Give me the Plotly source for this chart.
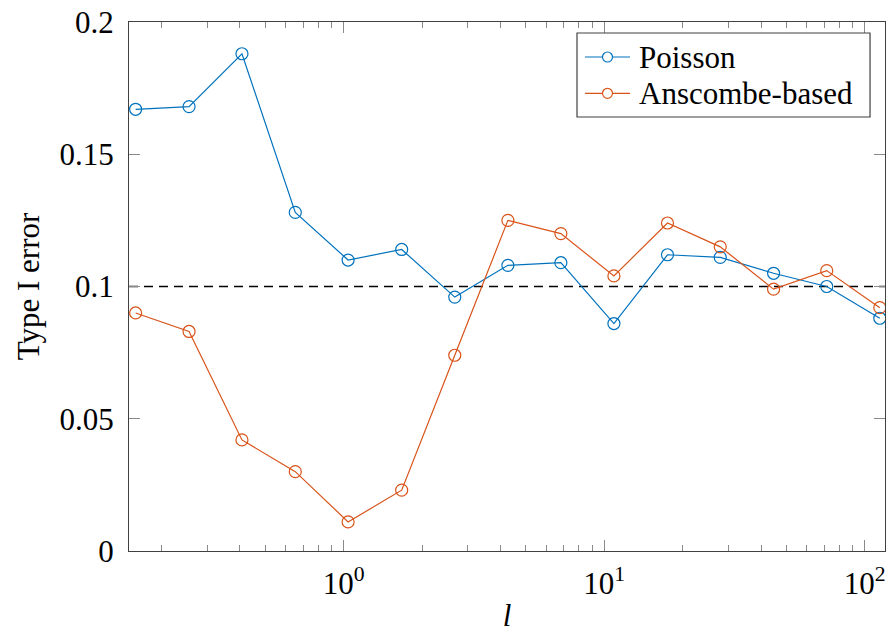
import plotly.graph_objects as go

# Data
l_values = [0.159, 0.255, 0.407, 0.652, 1.04, 1.67, 2.67, 4.27, 6.82, 10.9,
            17.5, 27.9, 44.7, 71.5, 114.3]
poisson = [0.167, 0.168, 0.188, 0.128, 0.110, 0.114, 0.096, 0.108, 0.109,
           0.086, 0.112, 0.111, 0.105, 0.100, 0.088]
anscombe = [0.090, 0.083, 0.042, 0.030, 0.011, 0.023, 0.074, 0.125, 0.120,
            0.104, 0.124, 0.115, 0.099, 0.106, 0.092]
series_names = ["Poisson", "Anscombe-based"]
nominal_level = 0.1
x_tickvals = [1, 10, 100]
x_ticktext = ["10<sup>0</sup>", "10<sup>1</sup>", "10<sup>2</sup>"]
y_tickvals = [0, 0.05, 0.1, 0.15, 0.2]
y_ticktext = ["0", "0.05", "0.1", "0.15", "0.2"]

FONT = "Liberation Serif"
FS = 31
BLUE = "#0072BD"
ORANGE = "#D95319"
AX = "#404040"
colors = [BLUE, ORANGE]

minor_vals = [m * 10 ** e for e in (-1, 0, 1, 2) for m in range(2, 10)]

fig = go.Figure()
for name, ys, col in zip(series_names, (poisson, anscombe), colors):
    fig.add_trace(go.Scatter(
        x=l_values, y=ys, name=name, mode="lines+markers", showlegend=False,
        line=dict(color=col, width=1.2),
        marker=dict(symbol="circle-open", size=12, color=col, line=dict(width=1.2, color=col)),
    ))

fig.add_shape(type="line", xref="paper", x0=0, x1=1, yref="y", y0=nominal_level, y1=nominal_level,
              line=dict(color="black", width=1.3, dash="9px,6px"), layer="below")

# Legend drawn as a boxed key (paper coordinates)
box = dict(x0=0.5926, x1=0.9802, y0=0.8204, y1=0.9792)
fig.add_shape(type="rect", xref="paper", yref="paper", **box,
              line=dict(color=AX, width=1.2), fillcolor="white", layer="above")
row_y = [0.9338, 0.8652]
line_x = (0.6032, 0.6627)
for name, col, ry in zip(series_names, colors, row_y):
    fig.add_shape(type="line", xref="paper", yref="paper", x0=line_x[0], x1=line_x[1],
                  y0=ry, y1=ry, line=dict(color=col, width=1.2), layer="above")
    fig.add_shape(type="circle", xref="paper", yref="paper",
                  xsizemode="pixel", ysizemode="pixel",
                  xanchor=(line_x[0] + line_x[1]) / 2, yanchor=ry,
                  x0=-5, x1=5, y0=-5, y1=5,
                  line=dict(color=col, width=1.2), fillcolor="white", layer="above")
    fig.add_annotation(xref="paper", yref="paper", x=0.6720, y=ry, text=name,
                       showarrow=False, xanchor="left", yanchor="middle",
                       font=dict(family=FONT, size=FS, color="black"))

fig.update_layout(
    width=888, height=633,
    margin=dict(l=129, r=3, t=22, b=82),
    paper_bgcolor="white", plot_bgcolor="white",
    font=dict(family=FONT, size=FS, color="black"),
    showlegend=False,
    xaxis=dict(type="log", range=[-0.824, 2.078],
               tickvals=x_tickvals, ticktext=x_ticktext,
               ticks="inside", ticklen=11, tickcolor="#8a8a8a", tickwidth=1,
               ticklabelstandoff=5,
               showline=True, linecolor=AX, linewidth=1.3, mirror="ticks",
               showgrid=False, zeroline=False,
               minor=dict(tickvals=minor_vals, ticks="inside", ticklen=6,
                          tickcolor="#8a8a8a", tickwidth=1, showgrid=False),
               title=dict(text="<i>l</i>", font=dict(family=FONT, size=FS), standoff=6),
               tickfont=dict(family=FONT, size=FS)),
    yaxis=dict(range=[0, 0.2], tickvals=y_tickvals, ticktext=y_ticktext,
               ticks="inside", ticklen=11, tickcolor="#8a8a8a", tickwidth=1,
               ticklabelstandoff=8,
               showline=True, linecolor=AX, linewidth=1.3, mirror="ticks",
               showgrid=False, zeroline=False,
               title=dict(text="Type I error", font=dict(family=FONT, size=FS), standoff=10),
               tickfont=dict(family=FONT, size=FS)),
)

fig.write_html("out.html")
